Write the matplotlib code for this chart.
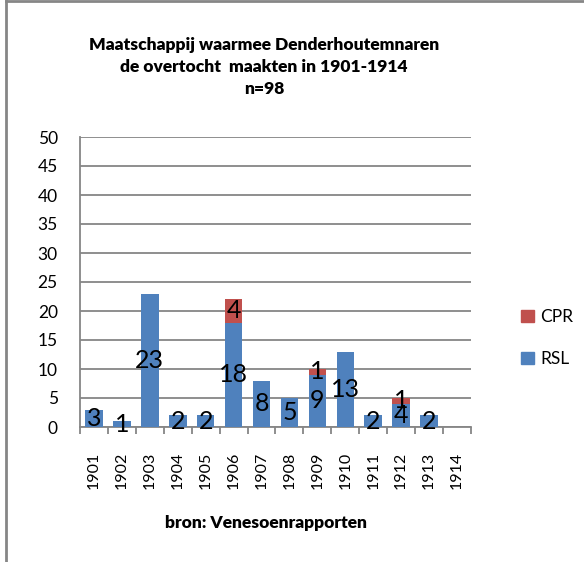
import matplotlib
matplotlib.use('Agg')
import matplotlib.pyplot as plt
from matplotlib.lines import Line2D
from matplotlib.patches import Patch

plt.rcParams['font.family'] = ['Lato', 'DejaVu Sans']

# Data
years = ['1901', '1902', '1903', '1904', '1905', '1906', '1907',
         '1908', '1909', '1910', '1911', '1912', '1913', '1914']
rsl = [3, 1, 23, 2, 2, 18, 8, 5, 9, 13, 2, 4, 2, 0]
cpr = [0, 0, 0, 0, 0, 4, 0, 0, 1, 0, 0, 1, 0, 0]

blue = '#4F81BD'
red = '#C0504D'
grey = '#868686'

W, H = 584, 562
fig = plt.figure(figsize=(W / 100, H / 100), dpi=100)
ax = fig.add_axes([80 / W, 1 - 427 / H, (471 - 80) / W, (427 - 137) / H])

x = list(range(len(years)))
b1 = ax.bar(x, rsl, width=0.63, color=blue, zorder=3)
b2 = ax.bar(x, cpr, width=0.63, bottom=rsl, color=red, zorder=3)

# data labels (skip empty segments)
ax.bar_label(b1, labels=[str(v) if v else '' for v in rsl],
             label_type='center', fontsize=18, zorder=4)
ax.bar_label(b2, labels=[str(v) if v else '' for v in cpr],
             label_type='center', fontsize=18, zorder=4)

ax.set_xlim(-0.5, len(years) - 0.5)
ax.set_ylim(0, 50)
ax.set_yticks(range(0, 51, 5))
ax.yaxis.grid(True, color=grey, linewidth=1.3, zorder=0)
ax.tick_params(axis='y', length=0, pad=16, labelsize=12.5)

ax.set_xticks(x)
ax.set_xticklabels(years, rotation=90, fontsize=11.5)
ax.tick_params(axis='x', which='major', length=0, pad=18)
ax.set_xticks([i - 0.5 for i in range(len(years) + 1)], minor=True)
ax.tick_params(axis='x', which='minor', length=5, width=1.3, color=grey,
               direction='out')

for s in ['top', 'right']:
    ax.spines[s].set_visible(False)
for s in ['left', 'bottom']:
    ax.spines[s].set_color(grey)
    ax.spines[s].set_linewidth(1.3)

fig.text(264 / W, 1 - 67 / H,
         'Maatschappij waarmee Denderhoutemnaren\nde overtocht  maakten in 1901-1914\nn=98',
         ha='center', va='center', fontsize=12.5, fontweight='heavy', linespacing=1.45)
fig.text(266 / W, 1 - 523 / H, 'bron: Venesoenrapporten',
         ha='center', va='center', fontsize=12.5, fontweight='heavy')

handles = [Patch(color=red, label='CPR'), Patch(color=blue, label='RSL')]
fig.legend(handles=handles, loc='center left',
           bbox_to_anchor=(505 / W, 1 - 338 / H), frameon=False,
           fontsize=12.5, handlelength=0.75, handleheight=0.75,
           handletextpad=0.4, labelspacing=1.5)

# chart frame (left and top edges visible)
fig.add_artist(Line2D([6 / W, 6 / W], [0, 1 - 1 / H], color=grey, linewidth=2))
fig.add_artist(Line2D([6 / W, 1], [1 - 1 / H, 1 - 1 / H], color=grey, linewidth=2))

fig.savefig('out.png', dpi=100)
